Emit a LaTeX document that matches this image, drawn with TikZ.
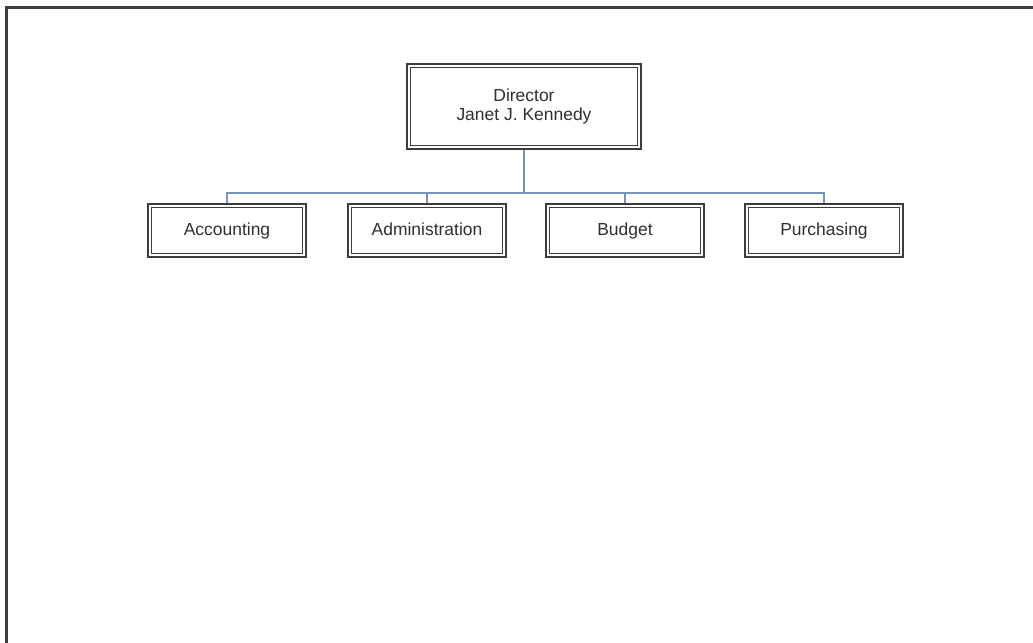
\documentclass[tikz,border=0pt]{standalone}
\usepackage{fontspec}
\setmainfont{Liberation Sans}
\usepackage{tikz}

\definecolor{boxline}{HTML}{3C3C3C}
\definecolor{linkblue}{HTML}{7592BC}
\definecolor{labeltext}{HTML}{303030}

\tikzset{
  orgbox/.style={draw=boxline, line width=1.9pt, fill=white, inner sep=0pt,
    text=labeltext, font=\fontsize{13.1pt}{13.9pt}\selectfont, align=center,
    path picture={\draw[boxline, line width=0.7pt]
      ([shift={(2.3pt,-2.3pt)}]path picture bounding box.north west) rectangle
      ([shift={(-2.3pt,2.3pt)}]path picture bounding box.south east);}},
  headbox/.style={orgbox, minimum width=175.5pt, minimum height=63.5pt},
  unitbox/.style={orgbox, minimum width=118.5pt, minimum height=39.5pt,
    text height=0.8em, text depth=0.08em},
  link/.style={draw=linkblue, line width=0.8pt}
}

\begin{document}
\begin{tikzpicture}[x=0.75pt, y=-0.75pt]
            \useasboundingbox (0,0) rectangle (1033,643);
            % page frame, only the top and left edges show
            \draw[boxline, line width=2pt] (6.5,1000) -- (6.5,7.5) -- (1100,7.5);

            \node[headbox] (director) at (524,106.5) {Director\\Janet J. Kennedy};
            \coordinate (bus) at (524,193);

            \foreach \name/\xpos/\txt in {acct/227/Accounting, admin/427/Administration,
                                          budget/625/Budget, purch/824/Purchasing} {
                \node[unitbox] (\name) at (\xpos,230.5) {\txt};
                \draw[link] (bus) -| (\name.north);
            }
            \draw[link] (director.south) -- (bus);
        \end{tikzpicture}
\end{document}
